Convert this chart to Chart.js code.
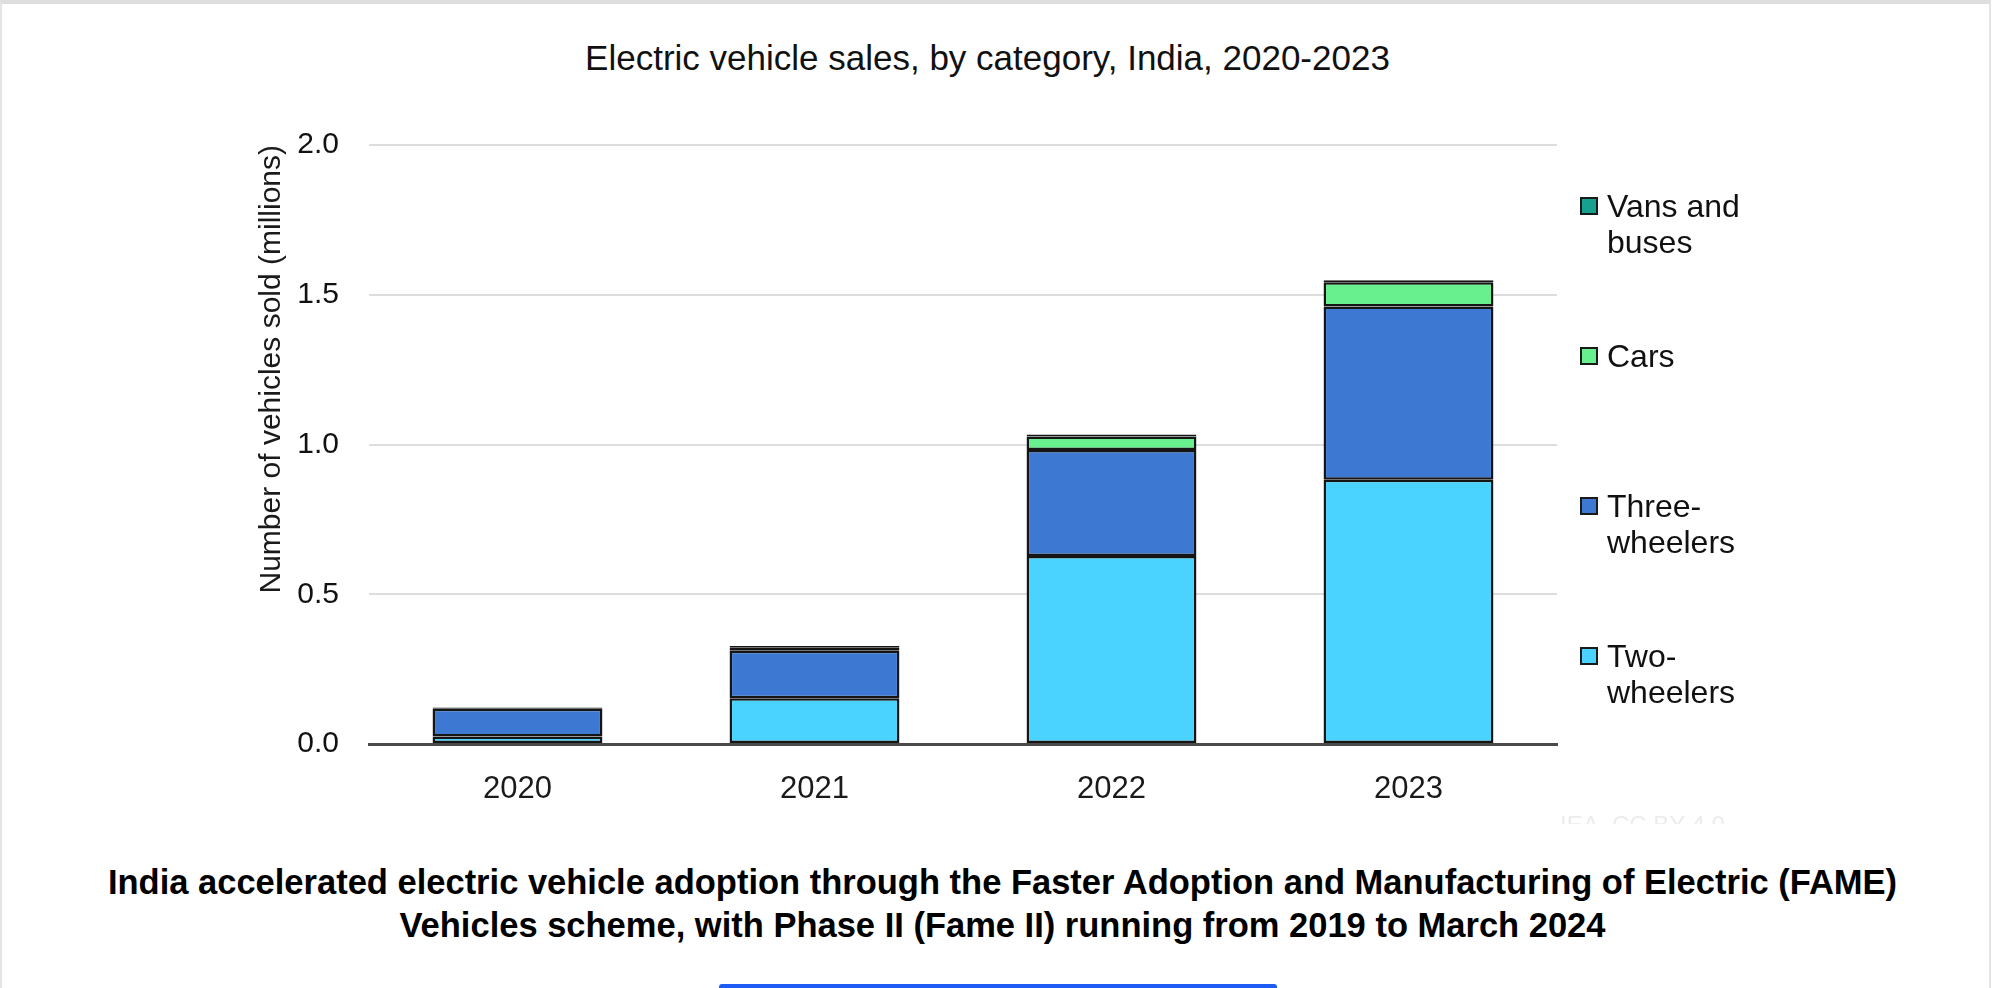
<!DOCTYPE html>
<html>
<head>
<meta charset="utf-8">
<title>Electric vehicle sales, by category, India, 2020-2023</title>
<script src="https://cdn.jsdelivr.net/npm/chart.js@4.4.1/dist/chart.umd.min.js"></script>
<style>
    html, body { margin: 0; padding: 0; background: #fff; }
    body { width: 1995px; height: 988px; position: relative; overflow: hidden; font-family: "Liberation Sans", Arial, sans-serif; }
    .frame { position: absolute; left: 0; top: 0; width: 1991px; height: 988px; border-top: 4px solid #dedede; border-left: 2px solid #e4e4e4; border-right: 2px solid #e4e4e4; box-sizing: border-box; }
    .title { position: absolute; left: 0; top: 38px; width: 1975px; text-align: center; font-size: 35px; color: #111; }
    .chart-box { position: absolute; left: 0; top: 0; width: 1995px; height: 830px; }
    .legend { position: absolute; left: 1580px; top: 0; }
    .legend .item { position: absolute; left: 0; width: 240px; font-size: 32px; line-height: 36px; color: #111; padding-left: 27px; }
    .legend .box { position: absolute; left: 0; top: 9px; width: 14px; height: 14px; border: 2px solid #1a1a1a; }
    .watermark { position: absolute; left: 1560px; top: 811px; height: 13px; overflow: hidden; font-size: 24px; color: #ececec; }
    .caption { position: absolute; left: 10px; top: 861px; width: 1985px; text-align: center; font-size: 34.5px; font-weight: bold; line-height: 43px; color: #000; }
    .button { position: absolute; left: 719px; top: 984px; width: 558px; height: 14px; background: #1f5cf5; border-radius: 3px; }
</style>
</head>
<body>
<div class="frame"></div>
<div class="title">Electric vehicle sales, by category, India, 2020-2023</div>
<div class="chart-box"><canvas id="evChart" width="1995" height="830"></canvas></div>
<div class="legend" id="legend"></div>
<div class="watermark">IEA. CC BY 4.0</div>
<div class="caption">India accelerated electric vehicle adoption through the Faster Adoption and Manufacturing of Electric (FAME)<br>Vehicles scheme, with Phase II (Fame II) running from 2019 to March 2024</div>
<div class="button"></div>
<script>
// data (millions of vehicles)
const years = ['2020', '2021', '2022', '2023'];
const twoWheelers = [0.025, 0.153, 0.628, 0.882];
const threeWheelers = [0.093, 0.158, 0.354, 0.579];
const cars = [0.002, 0.012, 0.045, 0.081];
const vansBuses = [0.002, 0.004, 0.006, 0.006];
const yTicks = [0, 0.5, 1.0, 1.5, 2.0];

const seriesNames = ['Two-wheelers', 'Three-wheelers', 'Cars', 'Vans and buses'];
const seriesColors = ['#4ad3ff', '#3d79d2', '#68f08e', '#16a08e'];

const FONT = "'Liberation Sans', Arial, sans-serif";

// one dataset per category, bottom of the stack first
const allSeries = [twoWheelers, threeWheelers, cars, vansBuses];
const datasets = allSeries.map((vals, i) => ({
    label: seriesNames[i],
    data: vals,
    backgroundColor: seriesColors[i],
    borderColor: '#151515',
    borderWidth: 2.5,
    borderSkipped: false,
    barPercentage: 0.572,
    categoryPercentage: 1.0
}));

// legend on the right, top item is the top of the stack
const legendTops = [188, 338, 488, 638];
const legendEl = document.getElementById('legend');
const legendLabels = ['Vans and<br>buses', 'Cars', 'Three-<br>wheelers', 'Two-<br>wheelers'];
for (let k = 0; k < 4; k++) {
    const idx = 3 - k;
    const item = document.createElement('div');
    item.className = 'item';
    item.style.top = legendTops[k] + 'px';
    item.innerHTML = `<span class="box" style="background:${seriesColors[idx]}"></span>${legendLabels[k]}`;
    legendEl.appendChild(item);
}

const ctx = document.getElementById('evChart').getContext('2d');
const evChart = new Chart(ctx, {
    type: 'bar',
    data: { labels: years, datasets: datasets },
    options: {
        responsive: false,
        animation: false,
        layout: { padding: { left: 254, right: 438, top: 145, bottom: 0 } },
        plugins: {
            legend: { display: false },
            tooltip: { enabled: false }
        },
        scales: {
            x: {
                stacked: true,
                grid: { display: false, drawTicks: false },
                border: { display: true, color: '#4a4a4a', width: 3 },
                ticks: { padding: 27, color: '#1a1a1a', font: { family: FONT, size: 31 } },
                afterFit: (scale) => { scale.height = 86; }
            },
            y: {
                stacked: true,
                min: 0,
                max: 2,
                afterBuildTicks: (scale) => { scale.ticks = yTicks.map(v => ({ value: v })); },
                grid: {
                    drawTicks: false,
                    lineWidth: 2,
                    color: (c) => c.tick && c.tick.value === 0 ? 'rgba(0,0,0,0)' : '#dddddd'
                },
                border: { display: false },
                ticks: {
                    padding: 30,
                    color: '#111',
                    font: { family: FONT, size: 30 },
                    callback: (v) => Number(v).toFixed(1)
                },
                title: {
                    display: true,
                    text: 'Number of vehicles sold (millions)',
                    align: 'end',
                    color: '#1a1a1a',
                    font: { family: FONT, size: 30 },
                    padding: 0
                },
                afterFit: (scale) => { scale.width = 115; }
            }
        }
    }
});
</script>
</body>
</html>
